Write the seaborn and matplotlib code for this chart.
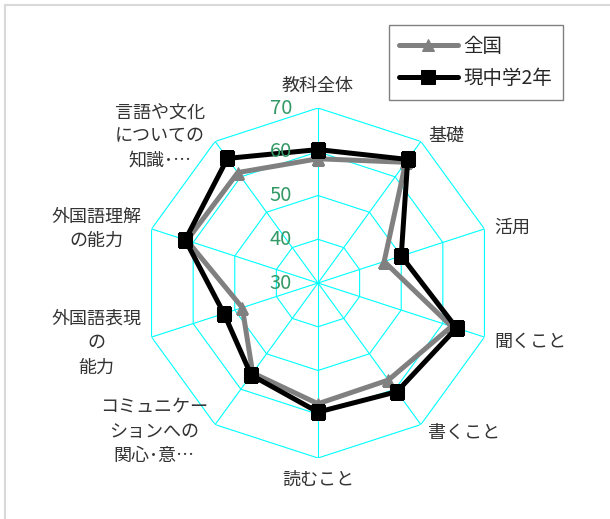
import matplotlib
matplotlib.use('Agg')
import matplotlib.pyplot as plt
import matplotlib.patches as mpatches
import seaborn as sns
import pandas as pd
import numpy as np

# Axis categories, clockwise from the top
categories = ['教科全体', '基礎', '活用', '聞くこと', '書くこと', '読むこと',
              'コミュニケー\nションへの\n関心･意…', '外国語表現\nの\n能力',
              '外国語理解\nの能力', '言語や文化\nについての\n知識･…']

# Series values
national = [58.4, 64.1, 45.9, 62.1, 57.4, 57.6, 55.4, 48.2, 61.5, 61.2]
grade2 = [60.5, 64.9, 50.0, 63.3, 60.7, 59.5, 56.0, 52.6, 61.9, 65.2]

r_ticks = [30, 40, 50, 60, 70]

series_names = ['全国', '現中学2年']
series_colors = {'全国': '#808080', '現中学2年': '#000000'}
series_markers = {'全国': '^', '現中学2年': 's'}

# label offsets in pixels from the outer ring vertex + alignment
label_pos = [((0, 22), 'center'), ((7, 6), 'left'), ((10, 1), 'left'),
             ((10, -5), 'left'), ((7, -8), 'left'), ((0, -22), 'center'),
             ((-7, -7), 'right'), ((-10, -6), 'right'), ((-10, 0), 'right'),
             ((-10, 5), 'right')]

sns.set_style('white')
plt.rcParams['font.family'] = ['Noto Sans CJK JP', 'DejaVu Sans']

n = len(categories)
theta = np.linspace(0, 2 * np.pi, n, endpoint=False)
theta_closed = np.append(theta, 2 * np.pi)

fig = plt.figure(figsize=(6.1, 5.19), dpi=100)
ax = fig.add_axes([0.2344, 0.1175, 0.5738, 0.6744], projection='polar')
ax.set_theta_zero_location('N')
ax.set_theta_direction(-1)

# decagon grid in cyan
for r in r_ticks[1:]:
    ax.plot(theta_closed, [r] * (n + 1), color='#00ffff', lw=0.8, zorder=1)
for t in theta:
    ax.plot([t, t], [r_ticks[0], r_ticks[-1]], color='#00ffff', lw=0.8, zorder=1)

# the two series
for name, vals in zip(series_names, [national, grade2]):
    df = pd.DataFrame({'theta': theta_closed, 'value': vals + vals[:1]})
    sns.lineplot(data=df, x='theta', y='value', sort=False, estimator=None,
                 color=series_colors[name], marker=series_markers[name],
                 markersize=10 if name == '現中学2年' else 9,
                 markeredgecolor=series_colors[name], linewidth=3.6,
                 label=name, ax=ax, zorder=3)

ax.set_ylim(r_ticks[0], r_ticks[-1])
ax.grid(False)
ax.spines['polar'].set_visible(False)
ax.set_xticks([])
ax.set_yticks([])
ax.set_xlabel('')
ax.set_ylabel('')

# radial tick labels in green, left of the top spoke
for r in r_ticks:
    ax.annotate(str(r), xy=(0, r), xytext=(-26, 0), textcoords='offset pixels',
                ha='right', va='center', color='#339966', fontsize=14.5,
                annotation_clip=False)

# category labels
for t, lab, (off, ha) in zip(theta, categories, label_pos):
    ax.annotate(lab, xy=(t, r_ticks[-1]), xytext=off, textcoords='offset pixels',
                ha=ha, va='center', multialignment='center', fontsize=13,
                color='#333333', linespacing=1.45, annotation_clip=False)

handles, labels = ax.get_legend_handles_labels()
ax.get_legend().remove()
leg = fig.legend(handles, labels, loc='upper right', bbox_to_anchor=(0.923, 0.952),
                 borderaxespad=0, fontsize=14, handlelength=3.0, labelspacing=0.6,
                 borderpad=0.55, handletextpad=0.3, fancybox=False, framealpha=1)
leg.get_frame().set_edgecolor('#808080')
leg.get_frame().set_linewidth(1.0)

# outer chart border (top and left edges visible)
fig.add_artist(mpatches.Rectangle((5 / 610, -0.1), 1.1, (519 - 5) / 519 + 0.1,
                                  transform=fig.transFigure, fill=False,
                                  edgecolor='#d9d9d9', lw=1.5))

plt.savefig('out.png', dpi=100)
